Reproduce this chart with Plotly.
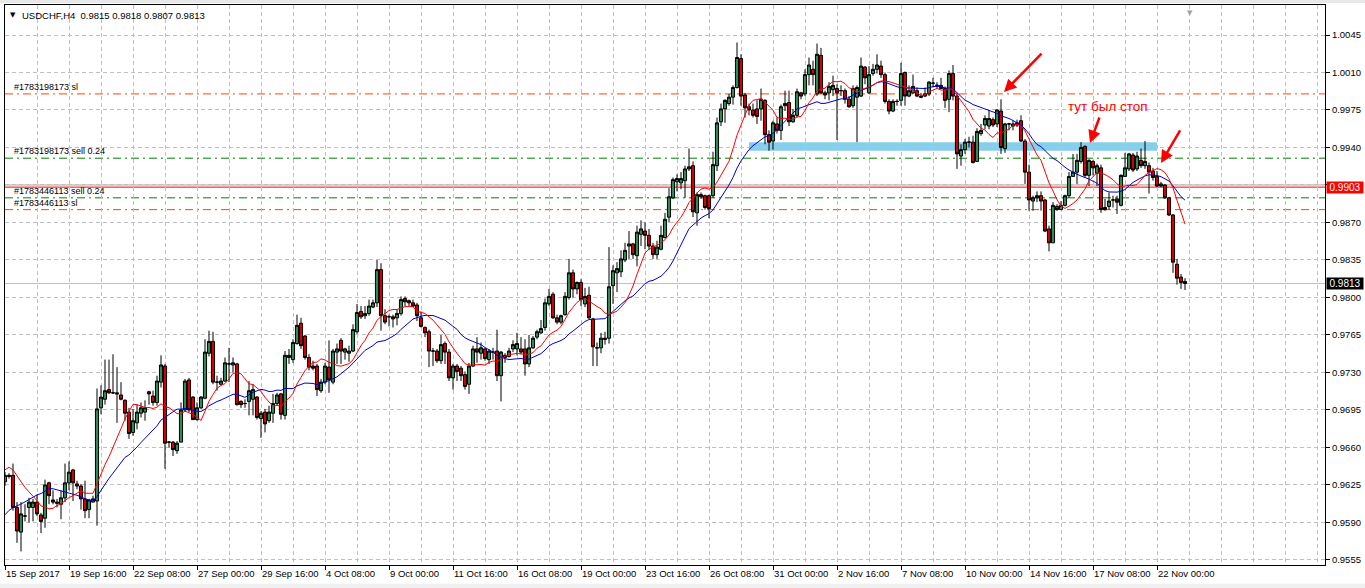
import plotly.graph_objects as go
import pandas as pd

symbol = "USDCHF,H4"

open_ = [
    .9628,.9634,.9634,.9604,.9581,.9596,.9604,.9604,.9609,.9597,
    .9594,.9627,.9611,.9609,.9607,.9613,.9627,.9639,.9626,.9624,
    .9612,.9602,.9609,.9610,.9697,.9705,.9714,.9711,.9711,.9709,
    .9704,.9693,.9674,.9683,.9692,.9693,.9712,.9708,.9702,.9721,
    .9736,.9665,.9665,.9657,.9665,.9695,.9723,.9707,.9686,.9697,
    .9706,.9748,.9759,.9721,.9719,.9722,.9738,.9737,.9738,.9703,
    .9701,.9703,.9705,.9707,.9687,.9693,.9685,.9692,.9701,.9710,
    .9690,.9744,.9742,.9757,.9776,.9764,.9744,.9736,.9736,.9713,
    .9721,.9735,.9721,.9749,.9760,.9749,.9748,.9750,.9768,.9787,
    .9783,.9785,.9791,.9795,.9826,.9783,.9782,.9782,.9781,.9785,
    .9799,.9797,.9795,.9793,.9781,.9772,.9768,.9750,.9750,.9741,
    .9757,.9749,.9725,.9736,.9734,.9728,.9719,.9736,.9752,.9748,
    .9752,.9742,.9749,.9750,.9727,.9746,.9745,.9752,.9752,.9752,
    .9752,.9738,.9753,.9763,.9767,.9772,.9794,.9803,.9781,.9777,
    .9784,.9800,.9823,.9808,.9814,.9794,.9802,.9780,.9753,.9753,
    .9762,.9762,.9811,.9823,.9824,.9835,.9848,.9850,.9839,.9859,
    .9862,.9858,.9848,.9840,.9845,.9856,.9875,.9893,.9908,.9907,
    .9909,.9920,.9923,.9879,.9896,.9895,.9895,.9895,.9923,.9964,
    .9976,.9981,.9987,.9996,1.0023,.9989,.9978,.9975,.9976,.9976,
    .9984,.9952,.9946,.9962,.9956,.9979,.9982,.9964,.9970,.9991,
    .9990,1.0008,1.0013,.9990,1.0026,.9991,.9991,.9994,.9995,.9993,
    .9993,.9985,.9979,.9987,.9988,1.0015,.9991,1.0009,1.0013,1.0016,
    1.0008,.9983,.9974,.9983,.9984,1.0010,.9988,.9991,.9993,.9988,
    .9988,.9990,1.0000,.9998,.9998,.9995,.9985,1.0009,.9988,.9932,
    .9938,.9945,.9945,.9927,.9953,.9961,.9960,.9966,.9962,.9974,
    .9939,.9962,.9960,.9961,.9965,.9946,.9917,.9890,.9893,.9895,
    .9891,.9864,.9851,.9885,.9882,.9886,.9895,.9913,.9917,.9927,
    .9941,.9914,.9927,.9916,.9921,.9884,.9885,.9891,.9892,.9886,
    .9913,.9920,.9933,.9920,.9928,.9923,.9923,.9918,.9913,.9906,
    .9905,.9893,.9877,.9831,.9819,.9815]

high = [
    .9637,.9636,.9645,.9609,.9609,.9607,.9613,.9612,.9616,.9599,
    .9630,.9628,.9620,.9612,.9620,.9645,.9647,.9640,.9629,.9626,
    .9629,.9612,.9615,.9715,.9718,.9742,.9742,.9747,.9735,.9721,
    .9705,.9697,.9696,.9700,.9702,.9704,.9713,.9713,.9727,.9746,
    .9738,.9666,.9666,.9666,.9702,.9724,.9725,.9708,.9702,.9708,
    .9761,.9769,.9768,.9727,.9725,.9744,.9753,.9744,.9739,.9704,
    .9705,.9722,.9719,.9708,.9694,.9696,.9699,.9710,.9711,.9711,
    .9750,.9752,.9761,.9784,.9781,.9765,.9747,.9741,.9738,.9724,
    .9739,.9760,.9752,.9757,.9762,.9753,.9755,.9775,.9794,.9792,
    .9792,.9798,.9798,.9835,.9832,.9789,.9784,.9784,.9789,.9801,
    .9801,.9798,.9798,.9795,.9787,.9773,.9770,.9753,.9752,.9765,
    .9759,.9752,.9738,.9738,.9736,.9731,.9739,.9755,.9763,.9758,
    .9753,.9752,.9753,.9770,.9750,.9748,.9753,.9760,.9767,.9763,
    .9761,.9765,.9764,.9770,.9779,.9799,.9808,.9805,.9784,.9784,
    .9805,.9836,.9826,.9815,.9817,.9809,.9810,.9781,.9758,.9767,
    .9768,.9847,.9830,.9833,.9844,.9851,.9862,.9851,.9867,.9872,
    .9870,.9864,.9851,.9853,.9867,.9879,.9902,.9912,.9915,.9917,
    .9923,.9939,.9927,.9898,.9898,.9896,.9896,.9936,.9968,.9981,
    .9985,.9990,.9998,1.0038,1.0027,.9991,.9981,.9981,.9984,.9995,
    .9985,.9956,.9965,.9968,.9980,.9993,.9993,.9976,.9995,.9992,
    1.0013,1.0024,1.0021,1.0037,1.0033,.9993,1.0001,1.0007,.9999,.9998,
    .9995,.9988,.9998,.9998,1.0024,1.0016,1.0016,1.0018,1.0027,1.0021,
    1.0010,.9985,.9985,.9985,1.0019,1.0011,.9998,1.0008,.9996,.9991,
    .9996,1.0002,1.0005,1.0001,1.0005,.9997,1.0012,1.0017,.9991,.9943,
    .9948,.9950,.9951,.9958,.9962,.9970,.9975,.9968,.9976,.9985,
    .9963,.9963,.9965,.9966,.9970,.9948,.9924,.9895,.9899,.9899,
    .9892,.9867,.9889,.9887,.9890,.9896,.9917,.9934,.9934,.9945,
    .9942,.9929,.9928,.9925,.9924,.9892,.9898,.9895,.9895,.9915,
    .9935,.9935,.9935,.9936,.9939,.9946,.9926,.9921,.9918,.9908,
    .9906,.9894,.9878,.9836,.9822,.9818]

low = [
    .9624,.9631,.9601,.9571,.9563,.9591,.9590,.9591,.9596,.9580,
    .9585,.9607,.9607,.9604,.9593,.9609,.9620,.9610,.9621,.9602,
    .9594,.9594,.9609,.9587,.9691,.9700,.9710,.9710,.9683,.9704,
    .9685,.9668,.9671,.9677,.9688,.9685,.9700,.9699,.9699,.9716,
    .9640,.9660,.9652,.9654,.9665,.9693,.9693,.9686,.9685,.9696,
    .9705,.9745,.9719,.9713,.9718,.9721,.9721,.9730,.9699,.9697,
    .9697,.9690,.9690,.9686,.9669,.9674,.9683,.9683,.9699,.9686,
    .9686,.9738,.9739,.9756,.9752,.9742,.9732,.9732,.9708,.9711,
    .9719,.9711,.9719,.9738,.9738,.9742,.9740,.9749,.9766,.9780,
    .9780,.9783,.9790,.9791,.9769,.9775,.9773,.9772,.9774,.9783,
    .9792,.9792,.9791,.9778,.9772,.9763,.9735,.9736,.9739,.9738,
    .9738,.9722,.9714,.9722,.9722,.9714,.9710,.9735,.9739,.9742,
    .9741,.9738,.9742,.9722,.9703,.9739,.9744,.9749,.9746,.9747,
    .9727,.9735,.9752,.9761,.9766,.9769,.9792,.9780,.9775,.9775,
    .9783,.9798,.9800,.9803,.9792,.9791,.9780,.9736,.9736,.9748,
    .9756,.9757,.9794,.9805,.9819,.9833,.9836,.9836,.9829,.9848,
    .9845,.9844,.9836,.9836,.9844,.9855,.9870,.9892,.9899,.9901,
    .9893,.9918,.9875,.9867,.9892,.9882,.9874,.9893,.9918,.9960,
    .9963,.9979,.9980,.9995,.9979,.9968,.9970,.9968,.9962,.9965,
    .9943,.9937,.9938,.9953,.9947,.9974,.9960,.9963,.9968,.9985,
    .9988,.9998,.9998,.9988,.9990,.9985,.9984,.9988,.9947,.9988,
    .9981,.9977,.9977,.9945,.9987,.9999,.9990,1.0007,1.0009,1.0005,
    .9981,.9971,.9973,.9979,.9979,.9979,.9987,.9990,.9987,.9986,
    .9987,.9988,.9996,.9995,.9995,.9977,.9973,.9984,.9920,.9923,
    .9934,.9940,.9925,.9927,.9951,.9957,.9957,.9959,.9959,.9934,
    .9935,.9956,.9956,.9959,.9945,.9906,.9881,.9881,.9889,.9881,
    .9861,.9843,.9851,.9881,.9882,.9885,.9893,.9913,.9906,.9925,
    .9912,.9904,.9914,.9904,.9879,.9881,.9882,.9884,.9878,.9885,
    .9913,.9918,.9917,.9918,.9921,.9920,.9897,.9909,.9903,.9903,
    .9892,.9876,.9823,.9812,.9808,.9807]

close = [
    .9634,.9633,.9604,.9582,.9598,.9596,.9609,.9609,.9598,.9591,
    .9625,.9615,.9609,.9608,.9613,.9627,.9637,.9627,.9624,.9612,
    .9601,.9611,.9612,.9696,.9707,.9713,.9711,.9711,.9710,.9705,
    .9692,.9673,.9685,.9693,.9697,.9697,.9710,.9702,.9722,.9737,
    .9664,.9665,.9658,.9664,.9695,.9722,.9695,.9686,.9697,.9707,
    .9749,.9759,.9721,.9721,.9722,.9739,.9738,.9739,.9700,.9700,
    .9701,.9713,.9714,.9688,.9692,.9682,.9693,.9701,.9709,.9691,
    .9746,.9746,.9758,.9774,.9755,.9744,.9735,.9734,.9714,.9721,
    .9736,.9723,.9750,.9752,.9750,.9752,.9750,.9770,.9786,.9782,
    .9785,.9792,.9795,.9826,.9783,.9777,.9782,.9780,.9785,.9798,
    .9796,.9795,.9792,.9783,.9773,.9767,.9750,.9750,.9741,.9756,
    .9749,.9725,.9736,.9731,.9727,.9717,.9736,.9752,.9749,.9753,
    .9743,.9750,.9749,.9727,.9749,.9744,.9750,.9756,.9757,.9749,
    .9738,.9753,.9762,.9768,.9771,.9795,.9801,.9781,.9777,.9783,
    .9801,.9823,.9808,.9814,.9798,.9801,.9781,.9754,.9753,.9762,
    .9761,.9810,.9825,.9827,.9836,.9844,.9850,.9840,.9861,.9864,
    .9858,.9848,.9840,.9847,.9858,.9873,.9894,.9910,.9911,.9911,
    .9920,.9922,.9880,.9896,.9894,.9884,.9883,.9924,.9963,.9976,
    .9984,.9987,.9996,1.0024,.9988,.9977,.9975,.9970,.9969,.9985,
    .9952,.9945,.9963,.9956,.9978,.9981,.9964,.9970,.9992,.9988,
    1.0008,1.0017,1.0008,1.0027,.9991,.9989,.9997,.9998,.9991,.9993,
    .9985,.9978,.9995,.9996,1.0016,1.0005,1.0008,1.0013,1.0017,1.0008,
    .9983,.9974,.9983,.9983,1.0009,.9988,.9993,.9997,.9988,.9987,
    .9990,1.0001,1.0000,.9998,.9995,.9984,1.0009,.9988,.9934,.9938,
    .9945,.9945,.9926,.9955,.9956,.9967,.9967,.9961,.9975,.9940,
    .9962,.9962,.9962,.9963,.9946,.9917,.9891,.9893,.9895,.9890,
    .9862,.9851,.9886,.9882,.9886,.9895,.9913,.9917,.9928,.9940,
    .9914,.9928,.9921,.9923,.9882,.9882,.9890,.9891,.9889,.9914,
    .9921,.9934,.9919,.9932,.9923,.9927,.9917,.9912,.9904,.9904,
    .9893,.9877,.9833,.9818,.9814,.9813]

# closes of the bars just before the visible window (inferred from the MA levels at the left edge)
warmup_close = [.9548, .9552, .9550, .9556, .9554, .9560, .9558, .9562, .9565, .9568,
                .9576, .9610, .9628, .9640, .9648, .9652, .9650, .9646, .9643, .9641]

x_label_bars = [0, 16, 32, 48, 64, 80, 96, 112, 128, 144, 160, 176, 192, 208, 224, 240, 256, 272, 288]
x_label_text = ["15 Sep 2017", "19 Sep 16:00", "22 Sep 08:00", "27 Sep 00:00", "29 Sep 16:00",
                "4 Oct 08:00", "9 Oct 00:00", "11 Oct 16:00", "16 Oct 08:00", "19 Oct 00:00",
                "23 Oct 16:00", "26 Oct 08:00", "31 Oct 00:00", "2 Nov 16:00", "7 Nov 08:00",
                "10 Nov 00:00", "14 Nov 16:00", "17 Nov 08:00", "22 Nov 00:00"]
price_tick_labels = ["0.9555", "0.9590", "0.9625", "0.9660", "0.9695", "0.9730", "0.9765", "0.9800",
                     "0.9835", "0.9870", "0.9905", "0.9940", "0.9975", "1.0010", "1.0045"]

order_names = ["#1783198173 sl", "#1783198173 sell 0.24", "#1783446113 sell 0.24", "#1783446113 sl"]
order_prices = [0.9990, 0.9930, 0.9893, 0.9882]
order_colors = ["#FF4500", "#008000", "#008000", "#FF4500"]

alert_line_price = 0.9903
gray_line_price = 0.9905
zone_bars = [186, 288]
zone_prices = [0.9937, 0.9945]

arrows = [  # (head bar, head price, tail bar, tail price)
    (249.75, 0.99918, 259.5, 1.00291),
    (271.25, 0.99442, 273.75, 0.99694),
    (289.0, 0.99255, 294.0, 0.99573),
]
note_text = "тут был стоп"
note_pos = (275.75, 0.99778)

FONT = "Liberation Sans, Arial, sans-serif"
GRID = "#C0C0C0"

n = len(close)
bars = list(range(n))
series = pd.Series(warmup_close + close)
ma_red = series.rolling(10).mean().iloc[len(warmup_close):].tolist()
ma_blue = series.rolling(21).mean().iloc[len(warmup_close):].tolist()

fig = go.Figure()
fig.add_trace(go.Candlestick(
    x=bars, open=open_, high=high, low=low, close=close,
    increasing=dict(line=dict(color="black", width=1), fillcolor="#2E8B57"),
    decreasing=dict(line=dict(color="black", width=1), fillcolor="#D00000"),
    whiskerwidth=0, showlegend=False, hoverinfo="skip"))
fig.add_trace(go.Scatter(x=bars, y=ma_blue, mode="lines", line=dict(color="#0000CD", width=1),
                         showlegend=False, hoverinfo="skip"))
fig.add_trace(go.Scatter(x=bars, y=ma_red, mode="lines", line=dict(color="#FF0000", width=1),
                         showlegend=False, hoverinfo="skip"))

shapes = []
annotations = []

shapes.append(dict(type="rect", xref="x", yref="y", x0=zone_bars[0], x1=zone_bars[1],
                   y0=zone_prices[0], y1=zone_prices[1], fillcolor="#87CEEB",
                   line=dict(width=0), layer="below"))
for name, p, col in zip(order_names, order_prices, order_colors):
    shapes.append(dict(type="line", xref="paper", yref="y", x0=0, x1=1, y0=p, y1=p,
                       line=dict(color=col, width=1, dash="8px,4px,2px,4px"), layer="below"))
    annotations.append(dict(xref="paper", yref="y", x=0.0053, y=p, xanchor="left", yanchor="bottom",
                            yshift=0, text=name, showarrow=False,
                            font=dict(family=FONT, size=9, color="black")))
shapes.append(dict(type="line", xref="paper", yref="y", x0=0, x1=1, y0=gray_line_price, y1=gray_line_price,
                   line=dict(color="#A8A8A8", width=1), layer="below"))
shapes.append(dict(type="line", xref="paper", yref="y", x0=0, x1=1, y0=alert_line_price, y1=alert_line_price,
                   line=dict(color="#FF0000", width=1), layer="below"))
shapes.append(dict(type="line", xref="paper", yref="y", x0=0, x1=1, y0=close[-1], y1=close[-1],
                   line=dict(color="#C0C0C0", width=1), layer="below"))
shapes.append(dict(type="rect", xref="paper", yref="paper", x0=-0.004, x1=1.031, y0=1.0036, y1=1.0095,
                   fillcolor="#E8E8E8", line=dict(width=0), layer="below"))
shapes.append(dict(type="rect", xref="paper", yref="paper", x0=-0.004, x1=1.031, y0=-0.0415, y1=-0.0335,
                   fillcolor="#F0F0F0", line=dict(width=0), layer="below"))

annotations.append(dict(xref="paper", yref="y", x=1, xshift=1, y=alert_line_price, xanchor="left",
                        yanchor="middle", text=f"{alert_line_price:.4f}", showarrow=False,
                        bgcolor="#FF0000", width=36, height=11, borderpad=0,
                        font=dict(family=FONT, size=10, color="white")))
annotations.append(dict(xref="paper", yref="y", x=1, xshift=1, y=close[-1], xanchor="left",
                        yanchor="middle", text=f"{close[-1]:.4f}", showarrow=False,
                        bgcolor="#000000", width=36, height=11, borderpad=0,
                        font=dict(family=FONT, size=10, color="white")))
annotations.append(dict(xref="paper", yref="paper", x=0.0023, y=0.982, xanchor="left", yanchor="middle",
                        text="▼", showarrow=False, font=dict(family="DejaVu Sans", size=7, color="black")))
annotations.append(dict(xref="paper", yref="paper", x=0.0112, y=0.982, xanchor="left", yanchor="middle",
                        text=f"{symbol}  {open_[-1]:.4f} {high[-1]:.4f} {low[-1]:.4f} {close[-1]:.4f}",
                        showarrow=False, font=dict(family=FONT, size=9.5, color="black")))
annotations.append(dict(xref="x", yref="paper", x=296.3, y=0.996, xanchor="center", yanchor="top",
                        text="▼", showarrow=False, font=dict(family="DejaVu Sans", size=7, color="#A0A0A0")))
for hx, hy, tx, ty in arrows:
    annotations.append(dict(xref="x", yref="y", x=hx, y=hy, axref="x", ayref="y", ax=tx, ay=ty,
                            text="", showarrow=True, arrowhead=2, arrowsize=1, arrowwidth=2.5,
                            arrowcolor="#FF0000", standoff=0))
annotations.append(dict(xref="x", yref="y", x=note_pos[0], y=note_pos[1], text=note_text, showarrow=False,
                        xanchor="center", yanchor="middle",
                        font=dict(family=FONT, size=13.5, color="#FF0000")))

fig.update_layout(
    width=1365, height=588, margin=dict(l=5, r=40, t=5, b=23, autoexpand=False),
    paper_bgcolor="white", plot_bgcolor="white", showlegend=False,
    boxgap=0.22, boxgroupgap=0,
    shapes=shapes, annotations=annotations,
    xaxis=dict(range=[0, 330], rangeslider=dict(visible=False), tickmode="array",
               tickvals=x_label_bars, ticktext=x_label_text, ticks="outside", ticklen=4,
               tickcolor="black", ticklabelposition="outside right", tickangle=0, automargin=False,
               showgrid=True, gridcolor=GRID, griddash="4px,3px", gridwidth=1,
               minor=dict(dtick=8, tick0=0, showgrid=True, gridcolor=GRID, griddash="4px,3px", ticks=""),
               showline=True, linecolor="black", linewidth=1, mirror=True, zeroline=False,
               tickfont=dict(family=FONT, size=9.5, color="black"), fixedrange=True),
    yaxis=dict(side="right", range=[0.95503, 1.00730], tickmode="array",
               tickvals=[float(t) for t in price_tick_labels], ticktext=price_tick_labels,
               ticks="outside", ticklen=4, tickcolor="black", automargin=False,
               showgrid=True, gridcolor=GRID, griddash="4px,3px", gridwidth=1,
               showline=True, linecolor="black", linewidth=1, mirror=True, zeroline=False,
               tickfont=dict(family=FONT, size=9.5, color="black"), fixedrange=True),
)

fig.write_html("out.html")
